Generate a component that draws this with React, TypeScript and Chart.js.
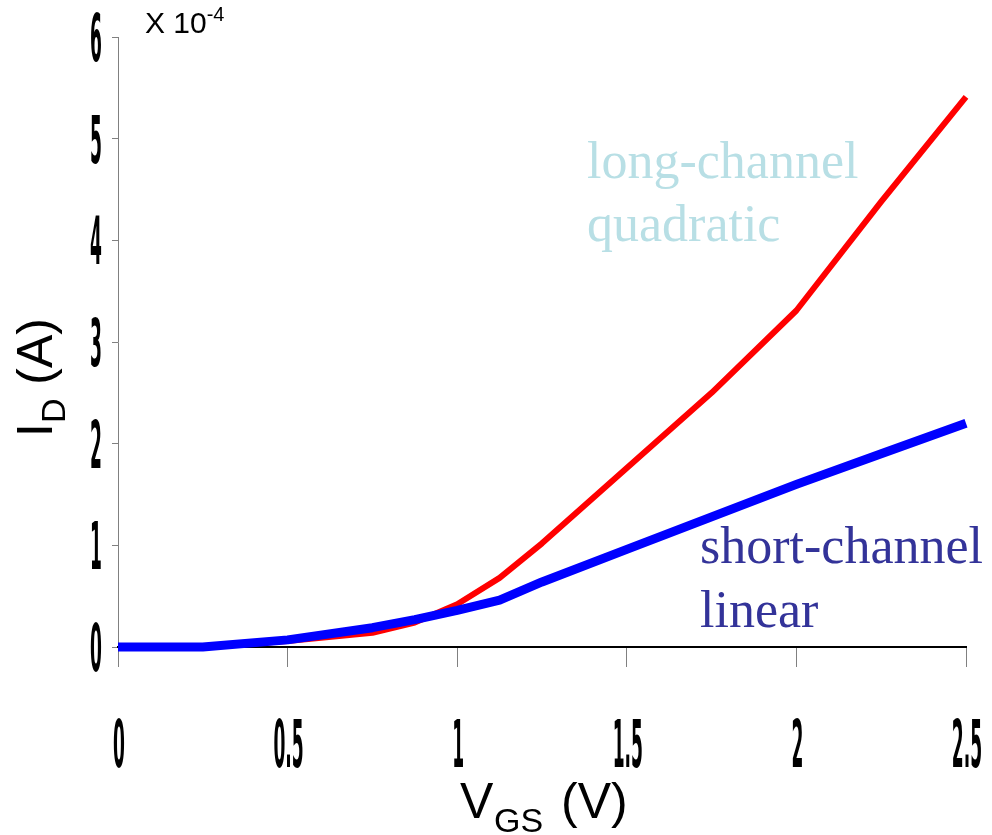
import React, { useEffect, useRef } from 'react';
import { Chart, registerables } from 'chart.js';

Chart.register(...registerables);

// Gate voltage samples (V)
const VGS = [0, 0.25, 0.5, 0.75, 0.875, 1.0, 1.125, 1.25, 1.5, 1.75, 2.0, 2.25, 2.5];
// Drain current, units of 1e-4 A
const ID_LONG = [0, 0, 0.06, 0.14, 0.24, 0.42, 0.68, 1.02, 1.76, 2.5, 3.31, 4.38, 5.41];
const ID_SHORT = [0, 0, 0.07, 0.19, 0.27, 0.36, 0.46, 0.64, 0.96, 1.28, 1.6, 1.9, 2.2];

const X_TICKS = [0, 0.5, 1, 1.5, 2, 2.5];
const X_TICK_LABELS = ['0', '0.5', '1', '1.5', '2', '2.5'];
const Y_TICKS = [0, 1, 2, 3, 4, 5, 6];
const Y_TICK_LABELS = ['0', '1', '2', '3', '4', '5', '6'];

const TICK_FONT = "bold 19px 'DejaVu Sans Condensed', 'Liberation Sans Narrow', sans-serif";
const TICK_STRETCH = 3.45;
const SANS = "'Liberation Sans', Arial, sans-serif";
const SERIF = "'Liberation Serif', 'Times New Roman', serif";

const decorations = {
  id: 'decorations',
  afterDraw(chart: any) {
    const ctx: CanvasRenderingContext2D = chart.ctx;
    const xs = chart.scales.x;
    const ys = chart.scales.y;
    ctx.save();
    ctx.fillStyle = '#000';

    // stretched bold tick labels
    ctx.font = TICK_FONT;
    ctx.textBaseline = 'alphabetic';
    ctx.textAlign = 'right';
    Y_TICKS.forEach((v, i) => {
      const py = ys.getPixelForValue(v);
      ctx.save();
      ctx.translate(xs.left - 16, py + 24);
      ctx.scale(1, TICK_STRETCH);
      ctx.fillText(Y_TICK_LABELS[i], 0, 0);
      ctx.restore();
    });
    ctx.textAlign = 'center';
    X_TICKS.forEach((v, i) => {
      const px = xs.getPixelForValue(v);
      ctx.save();
      ctx.translate(px + 1, ys.bottom + 120);
      ctx.scale(1, TICK_STRETCH);
      ctx.fillText(X_TICK_LABELS[i], 0, 0);
      ctx.restore();
    });

    // multiplier
    ctx.textAlign = 'left';
    ctx.font = `30px ${SANS}`;
    ctx.fillText('X 10', 145, 33);
    const w10 = ctx.measureText('X 10').width;
    ctx.font = `20px ${SANS}`;
    ctx.fillText('-4', 145 + w10, 21);

    // x title
    ctx.font = `50px ${SANS}`;
    ctx.fillText('V', 460, 818);
    ctx.font = `34px ${SANS}`;
    ctx.fillText('GS', 494, 832);
    ctx.font = `50px ${SANS}`;
    ctx.fillText('(V)', 561, 818);

    // y title (rotated)
    ctx.save();
    ctx.translate(52, 437);
    ctx.rotate(-Math.PI / 2);
    ctx.font = `50px ${SANS}`;
    ctx.fillText('I', 0, 0);
    let off = ctx.measureText('I').width;
    ctx.font = `34px ${SANS}`;
    ctx.fillText('D', off, 13);
    off += ctx.measureText('D').width;
    ctx.font = `50px ${SANS}`;
    ctx.fillText(' (A)', off, 0);
    ctx.restore();

    // annotations
    ctx.font = `52px ${SERIF}`;
    ctx.fillStyle = '#b8dfe5';
    ctx.fillText('long-channel', 587, 178);
    ctx.fillText('quadratic', 587, 241);
    ctx.fillStyle = '#333399';
    ctx.fillText('short-channel', 700, 563);
    ctx.fillText('linear', 700, 627);

    ctx.restore();
  },
};

export default function App() {
  const ref = useRef<HTMLCanvasElement>(null);
  useEffect(() => {
    const canvas = ref.current;
    if (!canvas) return;
    const chart = new Chart(canvas, {
      type: 'line',
      data: {
        datasets: [
          {
            label: 'short-channel linear',
            data: VGS.map((x, i) => ({ x, y: ID_SHORT[i] })),
            borderColor: '#0000ff',
            borderWidth: 9,
            pointRadius: 0,
            tension: 0,
            fill: false,
            clip: false as any,
            borderJoinStyle: 'round',
          },
          {
            label: 'long-channel quadratic',
            data: VGS.map((x, i) => ({ x, y: ID_LONG[i] })),
            borderColor: '#ff0000',
            borderWidth: 6,
            pointRadius: 0,
            tension: 0,
            fill: false,
            clip: false as any,
            borderJoinStyle: 'round',
          },
        ],
      },
      options: {
        animation: false,
        responsive: false,
        maintainAspectRatio: false,
        layout: { padding: { left: 112, top: 37, right: 26, bottom: 168 } },
        plugins: { legend: { display: false }, tooltip: { enabled: false } },
        scales: {
          x: {
            type: 'linear',
            min: 0,
            max: 2.5,
            ticks: { display: false, stepSize: 0.5 },
            grid: { drawOnChartArea: false, drawTicks: true, tickLength: 20, color: '#808080', lineWidth: 1 },
            border: { display: true, color: '#000000', width: 2 },
          },
          y: {
            type: 'linear',
            min: 0,
            max: 6,
            ticks: { display: false, stepSize: 1 },
            grid: { drawOnChartArea: false, drawTicks: true, tickLength: 6, color: '#808080', lineWidth: 1 },
            border: { display: true, color: '#808080', width: 1 },
          },
        },
      },
      plugins: [decorations],
    });
    return () => chart.destroy();
  }, []);
  return (
    <div style={{ position: 'absolute', left: 0, top: 0, width: 992, height: 835, background: '#fff' }}>
      <canvas ref={ref} width={992} height={835} style={{ display: 'block' }} />
    </div>
  );
}
